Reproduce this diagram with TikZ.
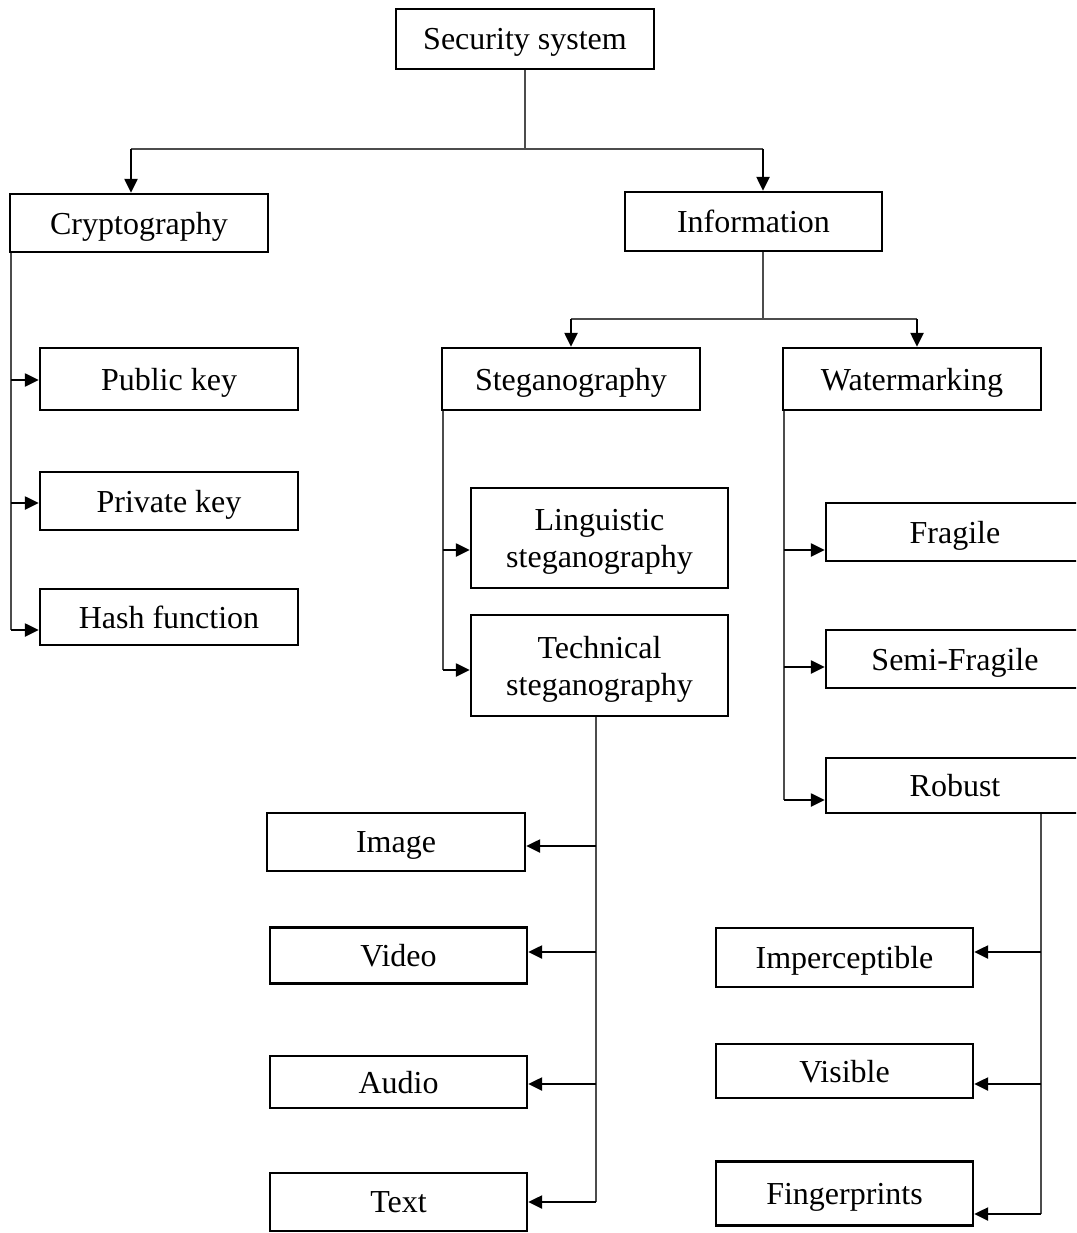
\documentclass[tikz,border=0pt]{standalone}
\usepackage{fontspec}
\setmainfont{Liberation Serif}
\usetikzlibrary{arrows.meta}
\begin{document}
\begin{tikzpicture}[x=1pt,y=-1pt,
 box/.style={draw, line width=2.4pt, inner sep=0pt, minimum width=258pt, text depth=0pt, font=\fontsize{32}{37}\selectfont, align=center},
 trunk/.style={line width=1.3pt, draw=black!70},
 arr/.style={line width=2.4pt, -{Triangle[length=14pt,width=13pt]}},
]
\clip (0,0) rectangle (1076,1233);
\fill[white] (0,0) rectangle (1076,1233);
% boxes
\node[box, minimum height=60pt] (sec) at (525,39) {Security system};
\node[box, minimum height=58pt] (crypt) at (139,223) {Cryptography};
\node[box, minimum height=59pt, minimum width=257pt] (info) at (753.5,221.5) {Information};
\node[box, minimum height=62pt] (pub) at (169,379) {Public key};
\node[box, minimum height=58pt] (priv) at (169,501) {Private key};
\node[box, minimum height=56pt] (hash) at (169,617) {Hash function};
\node[box, minimum height=62pt] (steg) at (571,379) {Steganography};
\node[box, minimum height=62pt] (water) at (912,379) {Watermarking};
\node[box, minimum height=100pt, minimum width=257pt] (ling) at (599.5,538) {Linguistic\\steganography};
\node[box, minimum height=101pt, minimum width=257pt] (tech) at (599.5,665.5) {Technical\\steganography};
\node[box, minimum height=58pt] (frag) at (955,532) {Fragile};
\node[box, minimum height=58pt] (semi) at (955,659) {Semi-Fragile};
\node[box, minimum height=55pt] (rob) at (955,785.5) {Robust};
\node[box, minimum height=58pt] (img) at (396,842) {Image};
\node[box, minimum height=56pt, minimum width=257pt] (vid) at (398.5,955.5) {Video};
\node[box, minimum height=52pt, minimum width=257pt] (aud) at (398.5,1082) {Audio};
\node[box, minimum height=58pt, minimum width=257pt] (txt) at (398.5,1202) {Text};
\node[box, minimum height=59pt, minimum width=257pt] (imp) at (844.5,957.5) {Imperceptible};
\node[box, minimum height=54pt, minimum width=257pt] (vis) at (844.5,1071) {Visible};
\node[box, minimum height=64pt, minimum width=257pt] (fing) at (844.5,1193.5) {Fingerprints};
% top level
\coordinate (jl) at (131,149);
\coordinate (jr) at (763,149);
\draw[trunk] (sec.south) -- (sec.south |- jl);
\draw[trunk] (jl) -- (jr);
\draw[arr] (jl) -- (jl |- crypt.north);
\draw[arr] (jr) -- (jr |- info.north);
% cryptography
\coordinate (c1) at (11,380);
\coordinate (c2) at (11,503);
\coordinate (c3) at (11,630);
\draw[trunk] (crypt.south -| c1) -- (c3);
\draw[arr] (c1) -- (c1 -| pub.west);
\draw[arr] (c2) -- (c2 -| priv.west);
\draw[arr] (c3) -- (c3 -| hash.west);
% information
\coordinate (kl) at (571,319);
\coordinate (kc) at (763,319);
\coordinate (kr) at (917,319);
\draw[trunk] (info.south -| kc) -- (kc);
\draw[trunk] (kl) -- (kr);
\draw[arr] (kl) -- (kl |- steg.north);
\draw[arr] (kr) -- (kr |- water.north);
% steganography
\coordinate (s1) at (443,550);
\coordinate (s2) at (443,670);
\draw[trunk] (steg.south -| s1) -- (s2);
\draw[arr] (s1) -- (s1 -| ling.west);
\draw[arr] (s2) -- (s2 -| tech.west);
% watermarking
\coordinate (w1) at (784,550);
\coordinate (w2) at (784,667);
\coordinate (w3) at (784,800);
\draw[trunk] (water.south -| w1) -- (w3);
\draw[arr] (w1) -- (w1 -| frag.west);
\draw[arr] (w2) -- (w2 -| semi.west);
\draw[arr] (w3) -- (w3 -| rob.west);
% technical
\coordinate (t1) at (596,846);
\coordinate (t2) at (596,952);
\coordinate (t3) at (596,1084);
\coordinate (t4) at (596,1202);
\draw[trunk] (tech.south -| t1) -- (t4);
\draw[arr] (t1) -- (t1 -| img.east);
\draw[arr] (t2) -- (t2 -| vid.east);
\draw[arr] (t3) -- (t3 -| aud.east);
\draw[arr] (t4) -- (t4 -| txt.east);
% robust
\coordinate (r1) at (1041,952);
\coordinate (r2) at (1041,1084);
\coordinate (r3) at (1041,1214);
\draw[trunk] (rob.south -| r1) -- (r3);
\draw[arr] (r1) -- (r1 -| imp.east);
\draw[arr] (r2) -- (r2 -| vis.east);
\draw[arr] (r3) -- (r3 -| fing.east);
\end{tikzpicture}
\end{document}
